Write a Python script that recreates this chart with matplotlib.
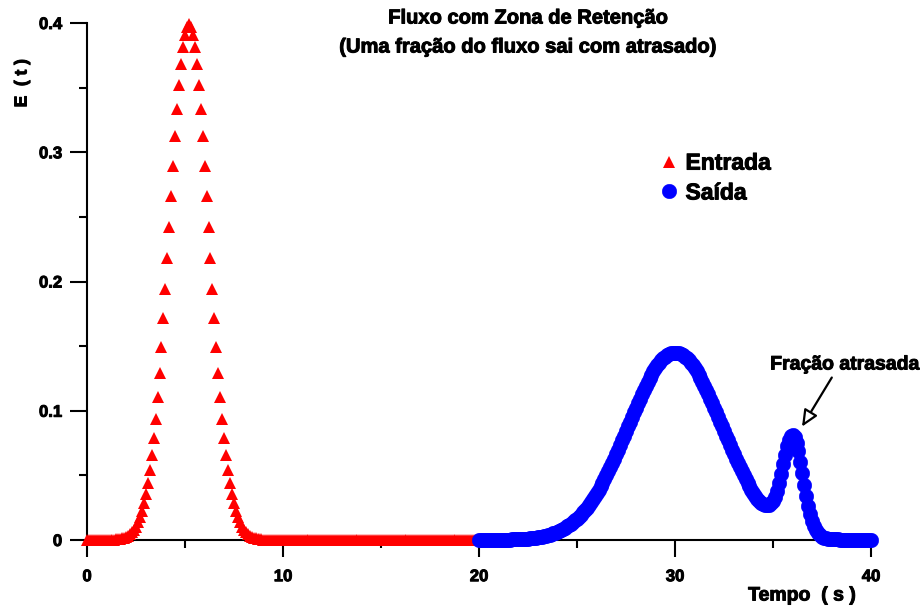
import numpy as np
import matplotlib
matplotlib.use('Agg')
import matplotlib.pyplot as plt
import matplotlib.patheffects as pe
from matplotlib.ticker import MultipleLocator, FixedLocator, FixedFormatter

# Dados (passo de 0.1 s)
tempo_entrada = np.linspace(0, 20, 201)
E_entrada = [
    0, 0, 0, 0, 0, 0, 0, 0, 0, 0, 0,
    0.0001, 0.0001, 0.0002, 0.0003, 0.0004, 0.0006, 0.0009, 0.0012, 0.0017,
    0.0024, 0.0033, 0.0044, 0.0060, 0.0079, 0.0104, 0.0136, 0.0175, 0.0224, 0.0283,
    0.0355, 0.0440, 0.0540, 0.0656, 0.0790, 0.0940, 0.1109, 0.1295, 0.1497, 0.1714,
    0.1942, 0.2179, 0.2420, 0.2661, 0.2897, 0.3123, 0.3332, 0.3521, 0.3683, 0.3814,
    0.3910, 0.3970, 0.3989, 0.3970, 0.3910, 0.3814, 0.3683, 0.3521, 0.3332, 0.3123,
    0.2897, 0.2661, 0.2420, 0.2179, 0.1942, 0.1714, 0.1497, 0.1295, 0.1109, 0.0940,
    0.0790, 0.0656, 0.0540, 0.0440, 0.0355, 0.0283, 0.0224, 0.0175, 0.0136, 0.0104,
    0.0079, 0.0060, 0.0044, 0.0033, 0.0024, 0.0017, 0.0012, 0.0009, 0.0006, 0.0004,
    0.0003, 0.0002, 0.0001, 0.0001,
    0, 0, 0, 0, 0, 0, 0, 0, 0, 0, 0, 0, 0, 0, 0, 0, 0, 0, 0, 0,
    0, 0, 0, 0, 0, 0, 0, 0, 0, 0, 0, 0, 0, 0, 0, 0, 0, 0, 0, 0,
    0, 0, 0, 0, 0, 0, 0, 0, 0, 0, 0, 0, 0, 0, 0, 0, 0, 0, 0, 0,
    0, 0, 0, 0, 0, 0, 0, 0, 0, 0, 0, 0, 0, 0, 0, 0, 0, 0, 0, 0,
    0, 0, 0, 0, 0, 0, 0, 0, 0, 0, 0, 0, 0, 0, 0, 0, 0, 0, 0, 0,
    0, 0, 0, 0, 0, 0, 0,
]

tempo_saida = np.linspace(20, 40, 201)
E_saida = [
    0, 0, 0, 0, 0, 0.0001, 0.0001, 0.0001, 0.0001, 0.0001,
    0.0001, 0.0001, 0.0002, 0.0002, 0.0002, 0.0003, 0.0003, 0.0004, 0.0004, 0.0005,
    0.0006, 0.0006, 0.0007, 0.0008, 0.0010, 0.0011, 0.0013, 0.0014, 0.0016, 0.0018,
    0.0021, 0.0023, 0.0026, 0.0029, 0.0033, 0.0037, 0.0041, 0.0046, 0.0052, 0.0057,
    0.0064, 0.0071, 0.0078, 0.0086, 0.0095, 0.0105, 0.0115, 0.0127, 0.0139, 0.0152,
    0.0166, 0.0180, 0.0196, 0.0213, 0.0231, 0.0250, 0.0270, 0.0291, 0.0314, 0.0337,
    0.0362, 0.0387, 0.0414, 0.0442, 0.0471, 0.0501, 0.0532, 0.0563, 0.0596, 0.0630,
    0.0664, 0.0699, 0.0734, 0.0770, 0.0806, 0.0843, 0.0879, 0.0916, 0.0953, 0.0989,
    0.1025, 0.1060, 0.1094, 0.1128, 0.1161, 0.1193, 0.1223, 0.1252, 0.1280, 0.1305,
    0.1330, 0.1352, 0.1372, 0.1390, 0.1405, 0.1419, 0.1430, 0.1439, 0.1445, 0.1449,
    0.1450, 0.1449, 0.1445, 0.1439, 0.1430, 0.1419, 0.1405, 0.1390, 0.1372, 0.1352,
    0.1330, 0.1305, 0.1280, 0.1252, 0.1223, 0.1193, 0.1161, 0.1128, 0.1094, 0.1060,
    0.1025, 0.0989, 0.0953, 0.0916, 0.0879, 0.0843, 0.0806, 0.0770, 0.0734, 0.0699,
    0.0664, 0.0630, 0.0596, 0.0563, 0.0532, 0.0501, 0.0471, 0.0442, 0.0414, 0.0387,
    0.0362, 0.0340, 0.0320, 0.0302, 0.0287, 0.0277, 0.0271, 0.0270, 0.0274, 0.0284,
    0.0303, 0.0335, 0.0381, 0.0441, 0.0510, 0.0586, 0.0659, 0.0725, 0.0776, 0.0808,
    0.0814, 0.0794, 0.0750, 0.0685, 0.0605, 0.0518, 0.0428, 0.0343, 0.0266, 0.0200,
    0.0147, 0.0105, 0.0074, 0.0051, 0.0036, 0.0025, 0.0018, 0.0012, 0.0009, 0.0007,
    0.0006, 0.0005, 0.0004, 0.0004, 0.0003, 0.0003, 0.0002, 0.0002, 0.0002, 0.0001,
    0.0001, 0.0001, 0.0001, 0.0001, 0.0001, 0.0001, 0.0001, 0.0001, 0.0001, 0.0001,
    0.0001,
]

rotulos_y = ['0', '0.1', '0.2', '0.3', '0.4']
valores_y = [0, 0.1, 0.2, 0.3, 0.4]
rotulos_x = ['0', '10', '20', '30', '40']
valores_x = [0, 10, 20, 30, 40]

plt.rcParams['font.family'] = ['Liberation Sans', 'DejaVu Sans']
plt.rcParams['font.weight'] = 'bold'

# contorno fino para engrossar o texto (o original é bem pesado)
grosso = [pe.withStroke(linewidth=0.7, foreground='black')]

W, H = 924, 612
fig = plt.figure(figsize=(W / 100, H / 100), dpi=100)
ax = fig.add_axes([87 / W, 72 / H, 784 / W, 517 / H])

# Séries
ax.plot(tempo_entrada, E_entrada, linestyle='none', marker='^', ms=8.8,
        color='#ff0000', mec='#ff0000', mew=0, clip_on=False, zorder=3, label='Entrada')
ax.plot(tempo_saida, E_saida, linestyle='none', marker='o', ms=10.5,
        color='#0000ff', mec='#0000ff', mew=0.3, clip_on=False, zorder=4, label='Saída')

ax.set_xlim(0, 40)
ax.set_ylim(0, 0.4)

# Eixos
for lado in ['top', 'right']:
    ax.spines[lado].set_visible(False)
for lado in ['left', 'bottom']:
    ax.spines[lado].set_linewidth(1.5)

ax.xaxis.set_major_locator(FixedLocator(valores_x))
ax.xaxis.set_major_formatter(FixedFormatter(rotulos_x))
ax.xaxis.set_minor_locator(MultipleLocator(5))
ax.yaxis.set_major_locator(FixedLocator(valores_y))
ax.yaxis.set_major_formatter(FixedFormatter(rotulos_y))
ax.yaxis.set_minor_locator(MultipleLocator(0.05))

ax.tick_params(which='major', direction='out', length=12, width=1.5, labelsize=12)
ax.tick_params(which='minor', direction='out', length=6, width=1.5)
ax.tick_params(axis='x', which='major', pad=9)
ax.tick_params(axis='y', which='major', pad=6)
for lab in ax.get_xticklabels() + ax.get_yticklabels():
    lab.set_fontweight('bold')
    lab.set_path_effects(grosso)

# Rótulos dos eixos
fig.text(22 / W, 1 - 83 / H, 'E  ( t )', rotation=90, ha='center', va='center',
         fontsize=12.5, fontweight='bold', path_effects=grosso)
fig.text(802 / W, 1 - 596 / H, 'Tempo  ( s )', ha='center', va='center',
         fontsize=14, fontweight='bold', path_effects=grosso)

# Título
fig.text(528 / W, 1 - 18 / H, 'Fluxo com Zona de Retenção', ha='center', va='center',
         fontsize=14.5, fontweight='bold', path_effects=grosso)
fig.text(528 / W, 1 - 47 / H, '(Uma fração do fluxo sai com atrasado)', ha='center',
         va='center', fontsize=14.5, fontweight='bold', path_effects=grosso)

# Legenda
leg = ax.legend(loc='center left', bbox_to_anchor=(658 / W, 1 - 178 / H),
                bbox_transform=fig.transFigure, frameon=False, borderpad=0,
                borderaxespad=0, handlelength=1.0, handletextpad=0.2,
                labelspacing=0.3, prop={'size': 16.5, 'weight': 'bold'})
for t in leg.get_texts():
    t.set_path_effects(grosso)

# Anotação da fração atrasada
ax.annotate('', xy=(36.48, 0.0877), xytext=(38.0, 0.1257),
            arrowprops=dict(arrowstyle='-|>,head_length=1.0,head_width=0.45',
                            fc='white', ec='black', lw=1.6, shrinkA=0, shrinkB=0),
            annotation_clip=False)
fig.text(845 / W, 1 - 365 / H, 'Fração atrasada', ha='center', va='center',
         fontsize=14, fontweight='bold', path_effects=grosso)

fig.savefig('out.png', dpi=100)
